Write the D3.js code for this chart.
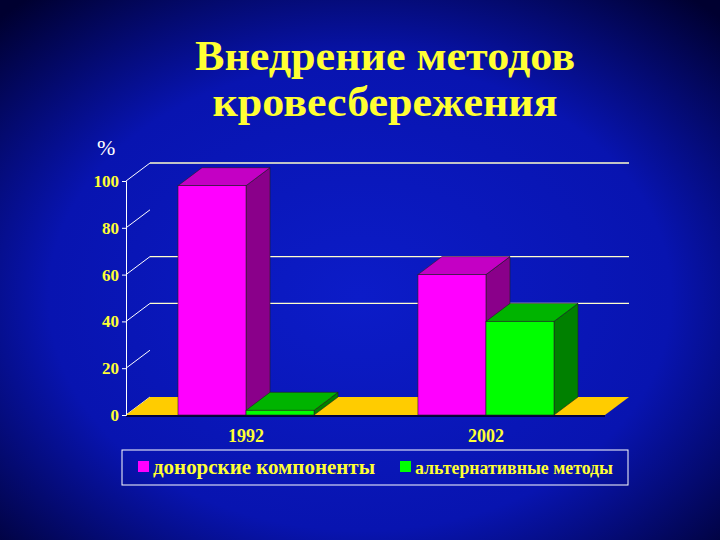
<!DOCTYPE html>
<html>
<head>
<meta charset="utf-8">
<script src="https://cdn.jsdelivr.net/npm/d3@7"></script>
<style>
  body { margin: 0; background: #000050; }
  svg { display: block; }
</style>
</head>
<body>
<script>
const titleLines = ["Внедрение методов", "кровесбережения"];
const years = ["1992", "2002"];
const seriesNames = ["донорские компоненты", "альтернативные методы"];
const donorValues = [98, 60];
const altValues = [2, 40];
const yTicks = [0, 20, 40, 60, 80, 100];
const gridTicks = [40, 60, 100];

const W = 720, H = 540;
const colors = [
  { front: "#ff00ff", top: "#c400c4", side: "#8a008a" },
  { front: "#00ff00", top: "#00b400", side: "#008000" }
];
const depthX = 24, depthY = 18;
const x0 = 126, x1 = 605, yBase = 415;
const serif = "Liberation Serif, serif";

const svg = d3.select("body").append("svg").attr("width", W).attr("height", H);
const defs = svg.append("defs");
const grad = defs.append("radialGradient").attr("id", "bg")
  .attr("cx", "50%").attr("cy", "55%").attr("r", "72%");
grad.append("stop").attr("offset", "0%").attr("stop-color", "#0c1cc8");
grad.append("stop").attr("offset", "60%").attr("stop-color", "#0814b0");
grad.append("stop").attr("offset", "100%").attr("stop-color", "#000030");
svg.append("rect").attr("width", W).attr("height", H).attr("fill", "url(#bg)");

svg.append("g").selectAll("text").data(titleLines).join("text")
  .attr("x", 385).attr("y", (d, i) => 70 + i * 46)
  .attr("text-anchor", "middle")
  .attr("font-family", serif).attr("font-weight", "bold")
  .attr("font-size", 42).attr("fill", "#ffff33")
  .attr("textLength", (d, i) => i === 0 ? 380 : 345).attr("lengthAdjust", "spacingAndGlyphs")
  .text(d => d);

svg.append("text").attr("x", 97).attr("y", 155)
  .attr("font-family", serif).attr("font-size", 22)
  .attr("fill", "#ffffff").text("%");

const y = d3.scaleLinear().domain([0, 100]).range([yBase, 181]);
const x = d3.scaleBand().domain(years).range([178, 554]).paddingInner(0.433).paddingOuter(0);
const sub = d3.scaleBand().domain([0, 1]).range([0, x.bandwidth()]);

// back wall gridlines
svg.append("g").selectAll("line").data(gridTicks).join("line")
  .attr("x1", x0 + depthX).attr("x2", x1 + depthX)
  .attr("y1", d => y(d) - depthY).attr("y2", d => y(d) - depthY)
  .attr("stroke", "#ffffcc").attr("stroke-width", 1.3);

// side wall diagonal ticks
svg.append("g").selectAll("line").data(yTicks).join("line")
  .attr("x1", x0).attr("y1", d => y(d))
  .attr("x2", x0 + depthX).attr("y2", d => y(d) - depthY)
  .attr("stroke", "#ffffff").attr("stroke-width", 1);

// floor
svg.append("polygon")
  .attr("points", [[x0, yBase], [x1, yBase], [x1 + depthX, yBase - depthY], [x0 + depthX, yBase - depthY]].join(" "))
  .attr("fill", "#ffcc00");
svg.append("line").attr("x1", x0).attr("x2", x1).attr("y1", yBase + 1).attr("y2", yBase + 1)
  .attr("stroke", "#000040").attr("stroke-width", 2);

// y axis
const yAxis = d3.axisLeft(y).tickValues(yTicks).tickSize(4);
const ya = svg.append("g").attr("transform", `translate(${x0},0)`).call(yAxis);
ya.select(".domain").attr("stroke", "#ffffff");
ya.selectAll(".tick line").attr("stroke", "#ffffff");
ya.selectAll("text").attr("fill", "#ffff33").attr("font-family", serif)
  .attr("font-weight", "bold").attr("font-size", 17);

// bars
const series = [donorValues, altValues];
const bars = [];
years.forEach((yr, i) => series.forEach((vals, s) => bars.push({ yr, s, v: vals[i] })));
const bg = svg.append("g");
bars.forEach(b => {
  const bx = x(b.yr) + sub(b.s), bw = sub.bandwidth();
  const top = y(b.v), c = colors[b.s];
  const g = bg.append("g").attr("stroke", "#222").attr("stroke-width", 0.6);
  g.append("polygon").attr("fill", c.side)
    .attr("points", [[bx + bw, yBase], [bx + bw + depthX, yBase - depthY], [bx + bw + depthX, top - depthY], [bx + bw, top]].join(" "));
  g.append("polygon").attr("fill", c.top)
    .attr("points", [[bx, top], [bx + depthX, top - depthY], [bx + bw + depthX, top - depthY], [bx + bw, top]].join(" "));
  g.append("rect").attr("x", bx).attr("y", top).attr("width", bw).attr("height", yBase - top).attr("fill", c.front);
});

// x labels
svg.append("g").selectAll("text").data(years).join("text")
  .attr("x", d => x(d) + x.bandwidth() / 2).attr("y", 442)
  .attr("text-anchor", "middle").attr("fill", "#ffff33")
  .attr("font-family", serif).attr("font-weight", "bold").attr("font-size", 18)
  .text(d => d);

// legend
svg.append("rect").attr("x", 122).attr("y", 450).attr("width", 506).attr("height", 35)
  .attr("fill", "none").attr("stroke", "#ffffff").attr("stroke-width", 1);
const lx = [138, 400];
const lw = [222, 198];
const lg = svg.append("g").selectAll("g").data(seriesNames).join("g")
  .attr("transform", (d, i) => `translate(${lx[i]},467)`);
lg.append("rect").attr("x", 0).attr("y", -6).attr("width", 11).attr("height", 11)
  .attr("fill", (d, i) => colors[i].front);
lg.append("text").attr("x", 15).attr("y", 7).attr("fill", "#ffff33")
  .attr("font-family", serif).attr("font-weight", "bold")
  .attr("font-size", (d, i) => i === 0 ? 20 : 18)
  .attr("textLength", (d, i) => lw[i]).attr("lengthAdjust", "spacingAndGlyphs")
  .text(d => d);
</script>
</body>
</html>
